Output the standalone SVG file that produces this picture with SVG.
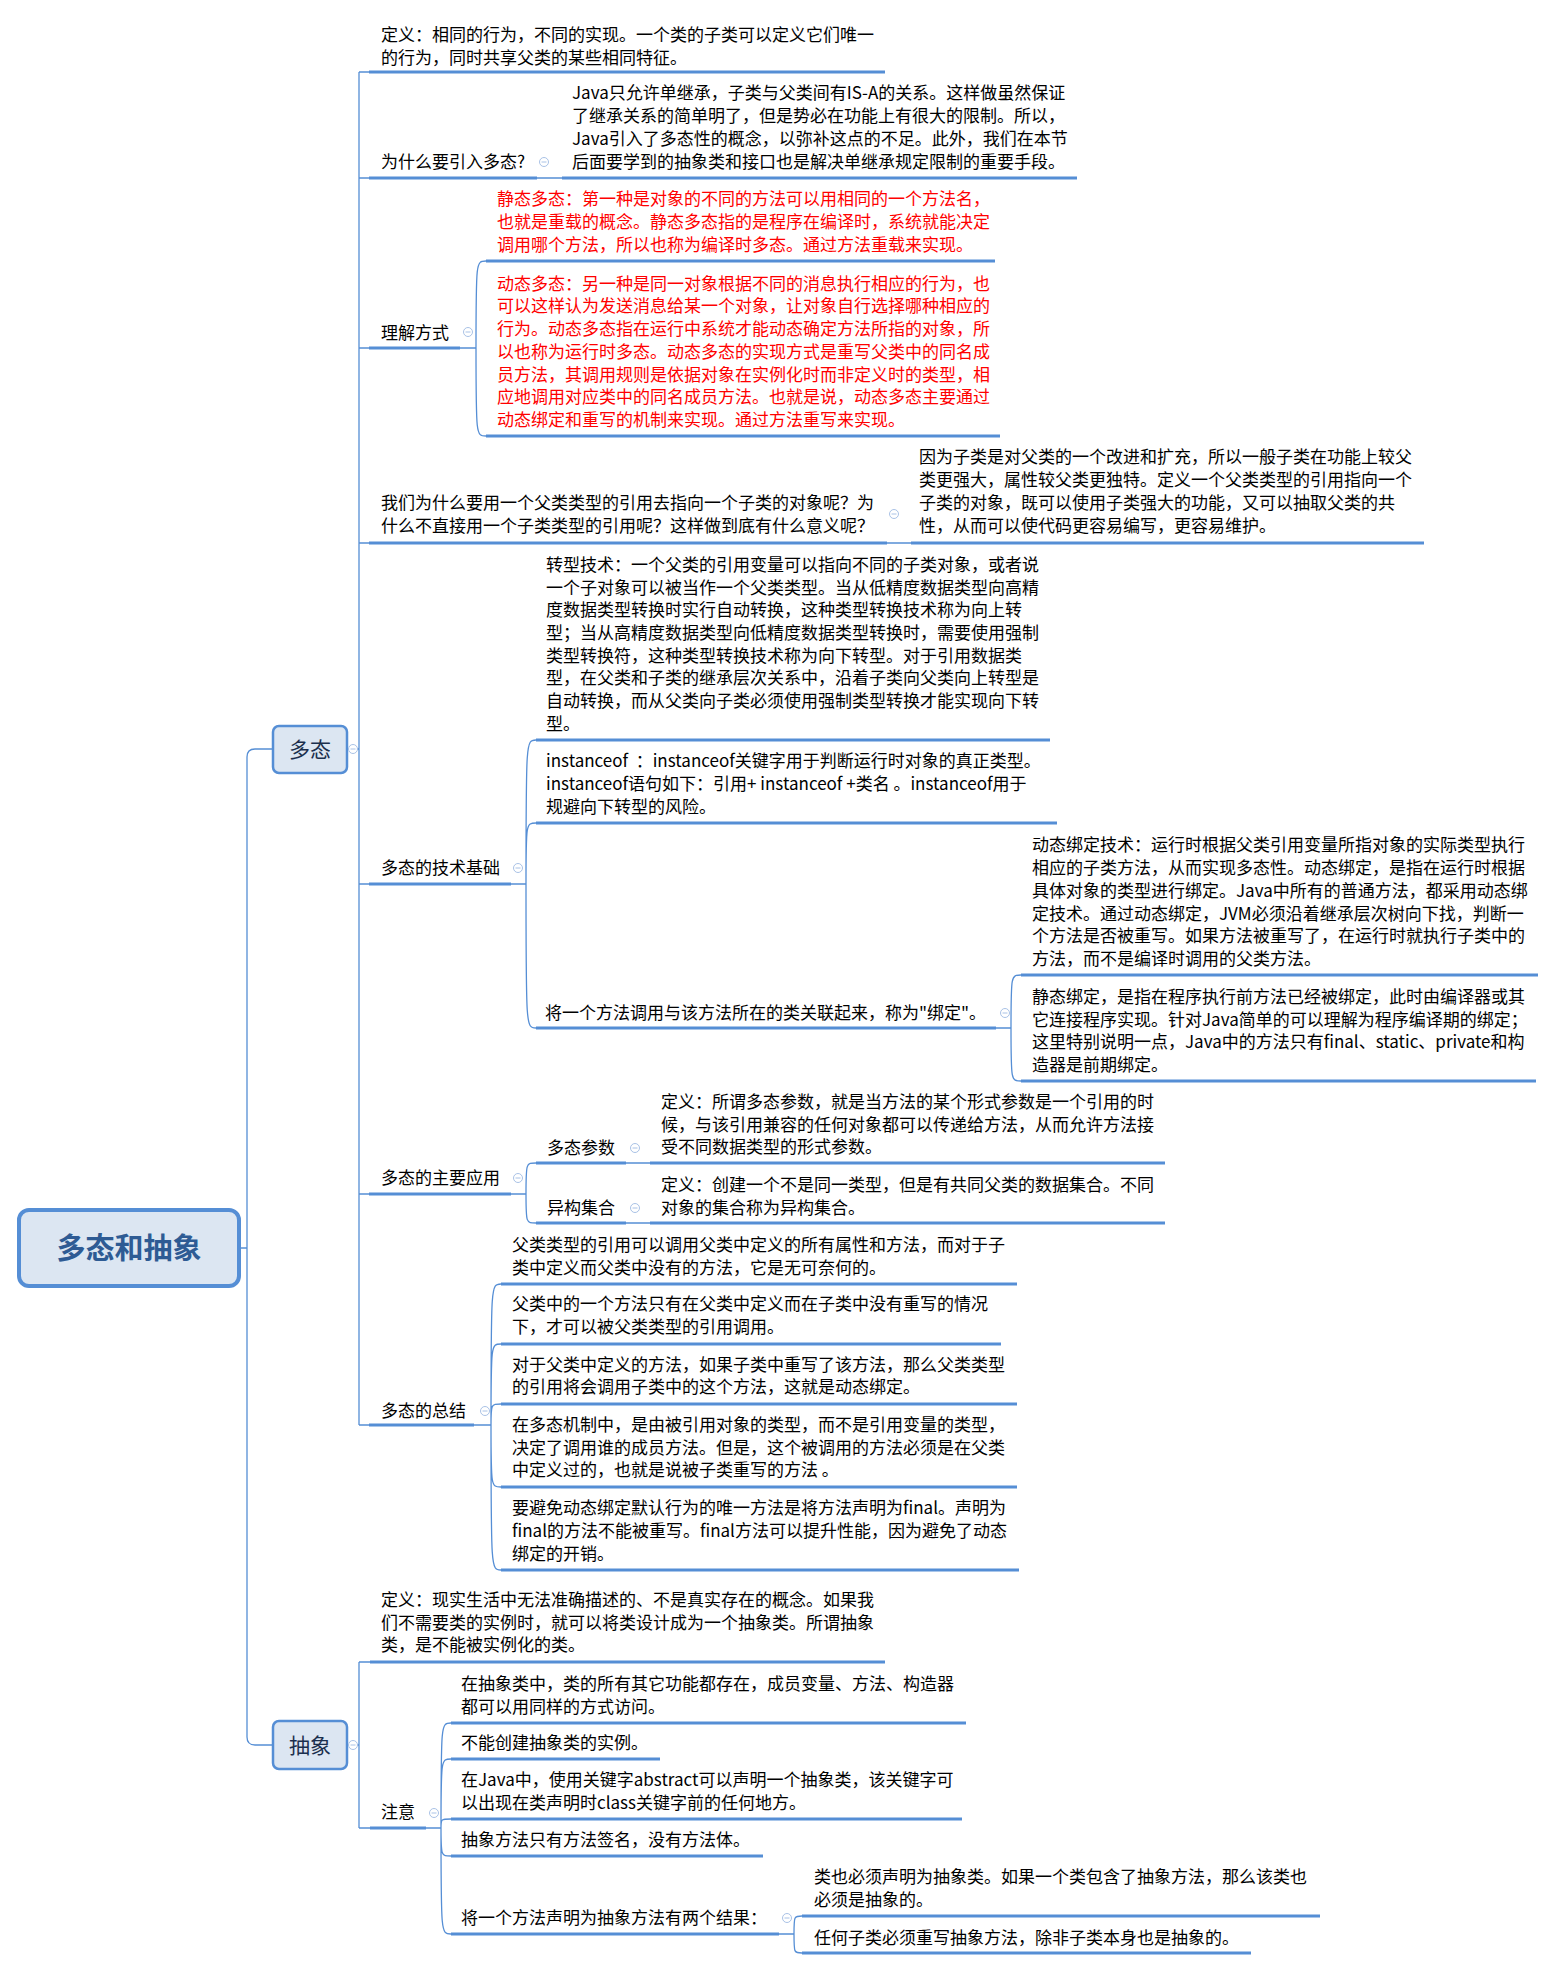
<svg xmlns="http://www.w3.org/2000/svg" xmlns:xlink="http://www.w3.org/1999/xlink" width="1557" height="1970" viewBox="0 0 1557 1970">
<style>
.t{font-family:"Noto Sans CJK SC","Microsoft YaHei",sans-serif;font-size:17px;fill:#000}
.red{fill:#ff0000}
.ul{stroke:#558ED5;stroke-width:3;fill:none}
.cn{stroke:#558ED5;stroke-width:1.3;fill:none}
.btn circle{fill:#fff;stroke:#a9c2e6;stroke-width:1}
.btn line{stroke:#a9c2e6;stroke-width:1}
.box{fill:#dce6f2;stroke:#558ED5}
</style>
<defs>
<g id="cb" class="btn"><circle r="4.5"/><line x1="-2.5" y1="0" x2="2.5" y2="0"/></g>
</defs>
<rect width="1557" height="1970" fill="#fff"/>

<g id="connectors">
<path class="cn" d="M239,1248 H247 M273,749 H255 Q247,749 247,757 V1737 Q247,1745 255,1745 H273"/>
<path class="cn" d="M347,749 H349 M357,749 H359 M359,72 V1425 M359,72 H369 M359,178 H369 M359,348 H369 M359,543 H369 M359,884 H369 M359,1194 H369 M359,1425 H369"/>
<path class="cn" d="M347,1745 H349 M357,1745 H359 M359,1662 V1828 M359,1662 H370 M359,1828 H370"/>
<path class="cn" d="M537,178 H562 M887,543 H911 M626,1163 H650 M626,1223 H650"/>
<path class="cn" d="M460,348 H476 M476,348 C476,261 476,261 486,261 M476,348 C476,436 476,436 486,436"/>
<path class="cn" d="M511,884 H526 M526,884 C526,740 526,740 536,740 M526,884 C526,823 526,823 536,823 M526,884 C526,1028 526,1028 536,1028"/>
<path class="cn" d="M996,1028 H1011 M1011,1028 C1011,975 1011,975 1021,975 M1011,1028 C1011,1081 1011,1081 1021,1081"/>
<path class="cn" d="M511,1194 H526 M526,1194 C526,1163 526,1163 536,1163 M526,1194 C526,1223 526,1223 536,1223"/>
<path class="cn" d="M474,1425 H491 M491,1425 C491,1284 491,1284 501,1284 M491,1425 C491,1344 491,1344 501,1344 M491,1425 C491,1404 491,1404 501,1404 M491,1425 C491,1487 491,1487 501,1487 M491,1425 C491,1570 491,1570 501,1570"/>
<path class="cn" d="M426,1828 H441 M441,1828 C441,1723 441,1723 451,1723 M441,1828 C441,1759 441,1759 451,1759 M441,1828 C441,1819 441,1819 451,1819 M441,1828 C441,1856 441,1856 451,1856 M441,1828 C441,1934 441,1934 451,1934"/>
<path class="cn" d="M779,1934 H794 M794,1934 C794,1916 794,1916 802,1916 M794,1934 C794,1953 794,1953 802,1953"/>
</g>

<g id="root">
<rect x="19" y="1210" width="220" height="76" rx="10" class="box" stroke-width="4"/>
<text x="129" y="1259" text-anchor="middle" style="font-family:'Noto Sans CJK SC','Microsoft YaHei',sans-serif;font-size:29px;font-weight:bold;fill:#2e5b94">多态和抽象</text>
</g>

<g id="n-duotai">
<rect x="273" y="726" width="74" height="47" rx="6" class="box" stroke-width="2.5"/>
<text x="310" y="757" text-anchor="middle" style="font-family:'Noto Sans CJK SC','Microsoft YaHei',sans-serif;font-size:21px;fill:#1b2f4d">多态</text>
<use xlink:href="#cb" x="353" y="749"/>
</g>

<g id="n-chouxiang">
<rect x="273" y="1721" width="74" height="48" rx="6" class="box" stroke-width="2.5"/>
<text x="310" y="1753" text-anchor="middle" style="font-family:'Noto Sans CJK SC','Microsoft YaHei',sans-serif;font-size:21px;fill:#1b2f4d">抽象</text>
<use xlink:href="#cb" x="353" y="1745"/>
</g>

<g id="n-def1">
<text class="t" x="381" y="41">定义：相同的行为，不同的实现。一个类的子类可以定义它们唯一</text>
<text class="t" x="381" y="64">的行为，同时共享父类的某些相同特征。</text>
<line class="ul" x1="369" y1="72" x2="885" y2="72"/>
</g>

<g id="n-why">
<text class="t" x="381" y="168">为什么要引入多态?</text>
<line class="ul" x1="369" y1="178" x2="537" y2="178"/>
<use xlink:href="#cb" x="544" y="162"/>
</g>
<g id="n-why-ans">
<text class="t" x="572" y="99">Java只允许单继承，子类与父类间有IS-A的关系。这样做虽然保证</text>
<text class="t" x="572" y="122">了继承关系的简单明了，但是势必在功能上有很大的限制。所以，</text>
<text class="t" x="572" y="145">Java引入了多态性的概念，以弥补这点的不足。此外，我们在本节</text>
<text class="t" x="572" y="168">后面要学到的抽象类和接口也是解决单继承规定限制的重要手段。</text>
<line class="ul" x1="562" y1="178" x2="1077" y2="178"/>
</g>

<g id="n-understand">
<text class="t" x="381" y="339">理解方式</text>
<line class="ul" x1="369" y1="348" x2="460" y2="348"/>
<use xlink:href="#cb" x="468" y="332"/>
</g>
<g id="n-static">
<text class="t red" x="497" y="205">静态多态：第一种是对象的不同的方法可以用相同的一个方法名，</text>
<text class="t red" x="497" y="228">也就是重载的概念。静态多态指的是程序在编译时，系统就能决定</text>
<text class="t red" x="497" y="251">调用哪个方法，所以也称为编译时多态。通过方法重载来实现。</text>
<line class="ul" x1="486" y1="261" x2="995" y2="261"/>
</g>
<g id="n-dynamic">
<text class="t red" x="497" y="290">动态多态：另一种是同一对象根据不同的消息执行相应的行为，也</text>
<text class="t red" x="497" y="312">可以这样认为发送消息给某一个对象，让对象自行选择哪种相应的</text>
<text class="t red" x="497" y="335">行为。动态多态指在运行中系统才能动态确定方法所指的对象，所</text>
<text class="t red" x="497" y="358">以也称为运行时多态。动态多态的实现方式是重写父类中的同名成</text>
<text class="t red" x="497" y="381">员方法，其调用规则是依据对象在实例化时而非定义时的类型，相</text>
<text class="t red" x="497" y="403">应地调用对应类中的同名成员方法。也就是说，动态多态主要通过</text>
<text class="t red" x="497" y="426">动态绑定和重写的机制来实现。通过方法重写来实现。</text>
<line class="ul" x1="486" y1="436" x2="1000" y2="436"/>
</g>

<g id="n-whyref">
<text class="t" x="381" y="509">我们为什么要用一个父类类型的引用去指向一个子类的对象呢？为</text>
<text class="t" x="381" y="532">什么不直接用一个子类类型的引用呢？这样做到底有什么意义呢？</text>
<line class="ul" x1="369" y1="543" x2="887" y2="543"/>
<use xlink:href="#cb" x="894" y="514"/>
</g>
<g id="n-whyref-ans">
<text class="t" x="919" y="463">因为子类是对父类的一个改进和扩充，所以一般子类在功能上较父</text>
<text class="t" x="919" y="486">类更强大，属性较父类更独特。定义一个父类类型的引用指向一个</text>
<text class="t" x="919" y="509">子类的对象，既可以使用子类强大的功能，又可以抽取父类的共</text>
<text class="t" x="919" y="532">性，从而可以使代码更容易编写，更容易维护。</text>
<line class="ul" x1="911" y1="543" x2="1424" y2="543"/>
</g>

<g id="n-tech">
<text class="t" x="381" y="874">多态的技术基础</text>
<line class="ul" x1="369" y1="884" x2="511" y2="884"/>
<use xlink:href="#cb" x="518" y="868"/>
</g>
<g id="n-cast">
<text class="t" x="546" y="571">转型技术：一个父类的引用变量可以指向不同的子类对象，或者说</text>
<text class="t" x="546" y="594">一个子对象可以被当作一个父类类型。当从低精度数据类型向高精</text>
<text class="t" x="546" y="616">度数据类型转换时实行自动转换，这种类型转换技术称为向上转</text>
<text class="t" x="546" y="639">型；当从高精度数据类型向低精度数据类型转换时，需要使用强制</text>
<text class="t" x="546" y="662">类型转换符，这种类型转换技术称为向下转型。对于引用数据类</text>
<text class="t" x="546" y="684">型，在父类和子类的继承层次关系中，沿着子类向父类向上转型是</text>
<text class="t" x="546" y="707">自动转换，而从父类向子类必须使用强制类型转换才能实现向下转</text>
<text class="t" x="546" y="730">型。</text>
<line class="ul" x1="536" y1="740" x2="1050" y2="740"/>
</g>
<g id="n-instanceof">
<text class="t" x="546" y="767" xml:space="preserve">instanceof  ：instanceof关键字用于判断运行时对象的真正类型。</text>
<text class="t" x="546" y="790">instanceof语句如下：引用+ instanceof +类名 。instanceof用于</text>
<text class="t" x="546" y="813">规避向下转型的风险。</text>
<line class="ul" x1="536" y1="823" x2="1057" y2="823"/>
</g>
<g id="n-bind">
<text class="t" x="545" y="1019">将一个方法调用与该方法所在的类关联起来，称为"绑定"。</text>
<line class="ul" x1="536" y1="1028" x2="996" y2="1028"/>
<use xlink:href="#cb" x="1005" y="1013"/>
</g>
<g id="n-dynbind">
<text class="t" x="1032" y="851">动态绑定技术：运行时根据父类引用变量所指对象的实际类型执行</text>
<text class="t" x="1032" y="874">相应的子类方法，从而实现多态性。动态绑定，是指在运行时根据</text>
<text class="t" x="1032" y="897">具体对象的类型进行绑定。Java中所有的普通方法，都采用动态绑</text>
<text class="t" x="1032" y="920">定技术。通过动态绑定，JVM必须沿着继承层次树向下找，判断一</text>
<text class="t" x="1032" y="942">个方法是否被重写。如果方法被重写了，在运行时就执行子类中的</text>
<text class="t" x="1032" y="965">方法，而不是编译时调用的父类方法。</text>
<line class="ul" x1="1021" y1="975" x2="1538" y2="975"/>
</g>
<g id="n-statbind">
<text class="t" x="1032" y="1003">静态绑定，是指在程序执行前方法已经被绑定，此时由编译器或其</text>
<text class="t" x="1032" y="1026">它连接程序实现。针对Java简单的可以理解为程序编译期的绑定；</text>
<text class="t" x="1032" y="1048">这里特别说明一点，Java中的方法只有final、static、private和构</text>
<text class="t" x="1032" y="1071">造器是前期绑定。</text>
<line class="ul" x1="1021" y1="1081" x2="1536" y2="1081"/>
</g>

<g id="n-app">
<text class="t" x="381" y="1184">多态的主要应用</text>
<line class="ul" x1="369" y1="1194" x2="511" y2="1194"/>
<use xlink:href="#cb" x="518" y="1178"/>
</g>
<g id="n-param">
<text class="t" x="547" y="1154">多态参数</text>
<line class="ul" x1="536" y1="1163" x2="626" y2="1163"/>
<use xlink:href="#cb" x="635" y="1148"/>
</g>
<g id="n-param-def">
<text class="t" x="661" y="1108">定义：所谓多态参数，就是当方法的某个形式参数是一个引用的时</text>
<text class="t" x="661" y="1131">候，与该引用兼容的任何对象都可以传递给方法，从而允许方法接</text>
<text class="t" x="661" y="1153">受不同数据类型的形式参数。</text>
<line class="ul" x1="650" y1="1163" x2="1165" y2="1163"/>
</g>
<g id="n-hetero">
<text class="t" x="547" y="1214">异构集合</text>
<line class="ul" x1="536" y1="1223" x2="626" y2="1223"/>
<use xlink:href="#cb" x="635" y="1208"/>
</g>
<g id="n-hetero-def">
<text class="t" x="661" y="1191">定义：创建一个不是同一类型，但是有共同父类的数据集合。不同</text>
<text class="t" x="661" y="1214">对象的集合称为异构集合。</text>
<line class="ul" x1="650" y1="1223" x2="1165" y2="1223"/>
</g>

<g id="n-summary">
<text class="t" x="381" y="1417">多态的总结</text>
<line class="ul" x1="369" y1="1425" x2="474" y2="1425"/>
<use xlink:href="#cb" x="485" y="1411"/>
</g>
<g id="n-sum1">
<text class="t" x="512" y="1251">父类类型的引用可以调用父类中定义的所有属性和方法，而对于子</text>
<text class="t" x="512" y="1274">类中定义而父类中没有的方法，它是无可奈何的。</text>
<line class="ul" x1="501" y1="1284" x2="1017" y2="1284"/>
</g>
<g id="n-sum2">
<text class="t" x="512" y="1310">父类中的一个方法只有在父类中定义而在子类中没有重写的情况</text>
<text class="t" x="512" y="1333">下，才可以被父类类型的引用调用。</text>
<line class="ul" x1="501" y1="1344" x2="1001" y2="1344"/>
</g>
<g id="n-sum3">
<text class="t" x="512" y="1371">对于父类中定义的方法，如果子类中重写了该方法，那么父类类型</text>
<text class="t" x="512" y="1393">的引用将会调用子类中的这个方法，这就是动态绑定。</text>
<line class="ul" x1="501" y1="1404" x2="1017" y2="1404"/>
</g>
<g id="n-sum4">
<text class="t" x="512" y="1431">在多态机制中，是由被引用对象的类型，而不是引用变量的类型，</text>
<text class="t" x="512" y="1454">决定了调用谁的成员方法。但是，这个被调用的方法必须是在父类</text>
<text class="t" x="512" y="1476">中定义过的，也就是说被子类重写的方法 。</text>
<line class="ul" x1="501" y1="1487" x2="1017" y2="1487"/>
</g>
<g id="n-sum5">
<text class="t" x="512" y="1514">要避免动态绑定默认行为的唯一方法是将方法声明为final。声明为</text>
<text class="t" x="512" y="1537">final的方法不能被重写。final方法可以提升性能，因为避免了动态</text>
<text class="t" x="512" y="1560">绑定的开销。</text>
<line class="ul" x1="501" y1="1570" x2="1019" y2="1570"/>
</g>

<g id="n-absdef">
<text class="t" x="381" y="1606">定义：现实生活中无法准确描述的、不是真实存在的概念。如果我</text>
<text class="t" x="381" y="1629">们不需要类的实例时，就可以将类设计成为一个抽象类。所谓抽象</text>
<text class="t" x="381" y="1651">类，是不能被实例化的类。</text>
<line class="ul" x1="370" y1="1662" x2="885" y2="1662"/>
</g>
<g id="n-note">
<text class="t" x="381" y="1818">注意</text>
<line class="ul" x1="370" y1="1828" x2="426" y2="1828"/>
<use xlink:href="#cb" x="434" y="1813"/>
</g>
<g id="n-note1">
<text class="t" x="461" y="1690">在抽象类中，类的所有其它功能都存在，成员变量、方法、构造器</text>
<text class="t" x="461" y="1713">都可以用同样的方式访问。</text>
<line class="ul" x1="451" y1="1723" x2="966" y2="1723"/>
</g>
<g id="n-note2">
<text class="t" x="461" y="1749">不能创建抽象类的实例。</text>
<line class="ul" x1="451" y1="1759" x2="660" y2="1759"/>
</g>
<g id="n-note3">
<text class="t" x="461" y="1786">在Java中，使用关键字abstract可以声明一个抽象类，该关键字可</text>
<text class="t" x="461" y="1809">以出现在类声明时class关键字前的任何地方。</text>
<line class="ul" x1="451" y1="1819" x2="962" y2="1819"/>
</g>
<g id="n-note4">
<text class="t" x="461" y="1846">抽象方法只有方法签名，没有方法体。</text>
<line class="ul" x1="451" y1="1856" x2="763" y2="1856"/>
</g>
<g id="n-note5">
<text class="t" x="461" y="1924">将一个方法声明为抽象方法有两个结果：</text>
<line class="ul" x1="451" y1="1934" x2="779" y2="1934"/>
<use xlink:href="#cb" x="787" y="1918"/>
</g>
<g id="n-res1">
<text class="t" x="814" y="1883">类也必须声明为抽象类。如果一个类包含了抽象方法，那么该类也</text>
<text class="t" x="814" y="1906">必须是抽象的。</text>
<line class="ul" x1="802" y1="1916" x2="1320" y2="1916"/>
</g>
<g id="n-res2">
<text class="t" x="814" y="1944">任何子类必须重写抽象方法，除非子类本身也是抽象的。</text>
<line class="ul" x1="802" y1="1953" x2="1251" y2="1953"/>
</g>
</svg>
